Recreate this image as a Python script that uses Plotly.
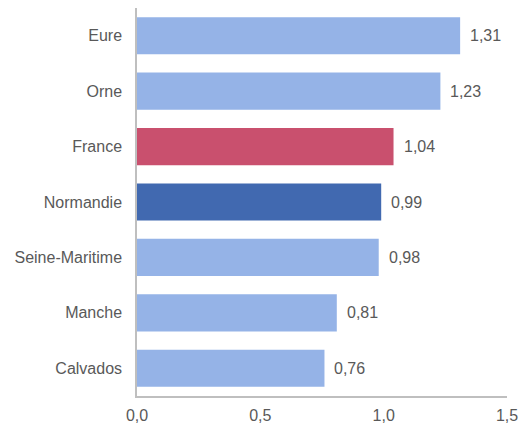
import plotly.graph_objects as go

categories = ["Eure", "Orne", "France", "Normandie", "Seine-Maritime", "Manche", "Calvados"]
values = [1.31, 1.23, 1.04, 0.99, 0.98, 0.81, 0.76]
value_labels = ["1,31", "1,23", "1,04", "0,99", "0,98", "0,81", "0,76"]
tick_vals = [0, 0.5, 1.0, 1.5]
tick_text = ["0,0", "0,5", "1,0", "1,5"]

color_map = {"France": "#C9506E", "Normandie": "#4169B0"}
colors = [color_map.get(c, "#95B3E7") for c in categories]

font_family = "Liberation Sans, Arial, sans-serif"
text_color = "#595959"
fsize = 16

fig = go.Figure(
    go.Bar(
        x=values,
        y=categories,
        orientation="h",
        marker=dict(color=colors, line=dict(width=0)),
        hoverinfo="skip",
    )
)

for c, v, t in zip(categories, values, value_labels):
    fig.add_annotation(
        x=v, y=c, text=t, showarrow=False, xanchor="left", xshift=8,
        font=dict(family=font_family, size=fsize, color=text_color),
    )

fig.update_layout(
    width=527,
    height=428,
    margin=dict(l=137, r=20, t=8, b=32, autoexpand=False),
    paper_bgcolor="white",
    plot_bgcolor="white",
    bargap=0.33,
    showlegend=False,
    font=dict(family=font_family, size=fsize, color=text_color),
    separators=",.",
)
fig.update_xaxes(
    range=[0, 1.5],
    tickvals=tick_vals,
    ticktext=tick_text,
    showgrid=False,
    zeroline=False,
    showline=True,
    linecolor="#BFBFBF",
    linewidth=1.5,
    ticks="",
    automargin=False,
    ticklabelstandoff=4,
    tickfont=dict(size=fsize, color=text_color),
)
fig.update_yaxes(
    autorange="reversed",
    showgrid=False,
    zeroline=False,
    showline=True,
    linecolor="#BFBFBF",
    linewidth=1.5,
    ticks="",
    automargin=False,
    ticklabelstandoff=10,
    tickfont=dict(size=fsize, color=text_color),
)

fig.write_html(
    "out.html",
    config={"displayModeBar": False},
    post_script="document.body.style.margin='0';document.body.style.overflow='hidden';",
)
